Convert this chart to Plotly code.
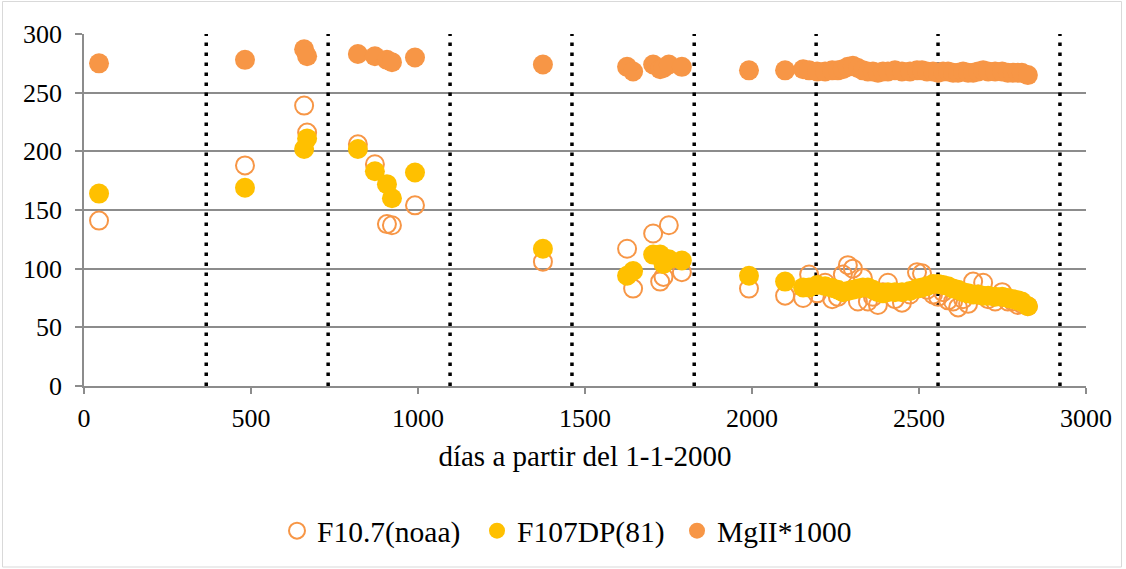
import plotly.graph_objects as go

# ---- data ----
days = [45, 482, 659, 668, 820, 871, 907, 922, 991, 1374,
        1626, 1644, 1704, 1725, 1735, 1751, 1790, 1991, 2099,
        2153, 2171, 2195, 2219, 2240, 2257, 2272, 2287, 2302, 2317,
        2332, 2347, 2362, 2377, 2392, 2407, 2428, 2449, 2473, 2494,
        2509, 2524, 2542, 2557, 2572, 2587, 2602, 2617, 2632, 2647,
        2662, 2677, 2692, 2707, 2728, 2749, 2766, 2781, 2796, 2808, 2826]

f107_noaa = [141, 188, 239, 216, 206, 189, 138, 137, 154, 106,
             117, 83, 130, 89, 93, 137, 97, 83, 77,
             75, 95, 79, 88, 74, 76, 95, 103, 100, 72,
             92, 72, 76, 69, 80, 88, 74, 71, 78, 97,
             96, 82, 78, 76, 80, 73, 72, 67, 74, 70,
             89, 78, 88, 74, 72, 80, 72, 72, 69, 70, 68]

f107dp81 = [164, 169, 202, 211, 202, 183, 172, 160, 182, 117,
            94, 98, 112, 112, 104, 108, 107, 94, 89,
            84, 84, 86, 85, 83.5, 82, 80, 81, 82, 83,
            84, 84, 82, 80, 79, 80, 80, 80, 81, 83,
            84, 85, 87, 87, 86, 85, 83, 82, 80, 79,
            78, 78, 77, 77, 76, 76, 75, 74, 73, 72, 68]

mgii_x1000 = [275, 278, 287, 281, 283, 281, 278, 276, 280, 274,
              272, 268, 274, 270, 271, 274, 272, 269, 269,
              270, 269, 268, 268, 269, 269, 270, 272, 273, 271,
              269, 268, 268, 267, 268, 268, 269, 268, 268, 269,
              269, 268, 268, 267, 268, 268, 267, 267, 268, 267,
              267, 268, 269, 268, 268, 268, 267, 267, 267, 267, 265]

year_boundaries = [366, 731, 1096, 1461, 1827, 2192, 2557, 2922]

x_ticks = [0, 500, 1000, 1500, 2000, 2500, 3000]
y_ticks = [0, 50, 100, 150, 200, 250, 300]

ORANGE = "#F79646"
YELLOW = "#FFC000"
GRID = "#8C8C8C"
FONT = "Liberation Serif, Times New Roman, serif"

W, H = 1126, 569
ML, MR, MT, MB = 84, 40, 34, 183
PW, PH = W - ML - MR, H - MT - MB

fig = go.Figure()

fig.add_trace(go.Scatter(
    x=days, y=f107_noaa, mode="markers", name="F10.7(noaa)",
    marker=dict(symbol="circle-open", size=18, color=ORANGE,
                line=dict(width=2, color=ORANGE)),
))
fig.add_trace(go.Scatter(
    x=days, y=f107dp81, mode="markers", name="F107DP(81)",
    marker=dict(symbol="circle", size=20, color=YELLOW, line=dict(width=0)),
))
fig.add_trace(go.Scatter(
    x=days, y=mgii_x1000, mode="markers", name="MgII*1000",
    marker=dict(symbol="circle", size=20, color=ORANGE, line=dict(width=0)),
))

for xb in year_boundaries:
    fig.add_shape(type="line", xref="x", yref="y", x0=xb, x1=xb, y0=0, y1=300,
                  line=dict(color="black", width=3.5, dash="3.5px,6.5px"),
                  layer="between")


def px_x(p):
    return (p - ML) / PW


def px_y(p):
    return (H - MB - p) / PH


# chart-area border
fig.add_shape(type="rect", xref="paper", yref="paper",
              x0=px_x(2.5), x1=px_x(1121.5), y0=px_y(567), y1=px_y(1.5),
              line=dict(color="#D9D9D9", width=1), fillcolor="rgba(0,0,0,0)",
              layer="below")

fig.update_layout(
    width=W, height=H,
    margin=dict(l=ML, r=MR, t=MT, b=MB),
    paper_bgcolor="white", plot_bgcolor="white",
    font=dict(family=FONT, size=26, color="black"),
    showlegend=True,
    legend=dict(orientation="h", x=px_x(577), xanchor="center", y=px_y(531),
                yanchor="middle", font=dict(family=FONT, size=29.5),
                itemsizing="trace", itemwidth=30, traceorder="normal",
                entrywidth=155, entrywidthmode="pixels"),
)

fig.update_xaxes(
    range=[0, 3000], tickvals=x_ticks, ticktext=[str(v) for v in x_ticks],
    showgrid=False, zeroline=False, automargin=False,
    showline=True, linecolor=GRID, linewidth=1.5,
    ticks="outside", ticklen=6, tickcolor=GRID, tickwidth=1.5,
    ticklabelstandoff=2,
    tickfont=dict(family=FONT, size=26),
    title=dict(text="días a partir del 1-1-2000", standoff=14,
               font=dict(family=FONT, size=29)),
)
fig.update_yaxes(
    range=[0, 300], tickvals=y_ticks, ticktext=[str(v) for v in y_ticks],
    showgrid=True, gridcolor=GRID, gridwidth=1.5, automargin=False,
    zeroline=False, showline=True, linecolor=GRID, linewidth=1.5,
    ticks="outside", ticklen=7, tickcolor=GRID, tickwidth=1.5,
    ticklabelstandoff=8,
    tickfont=dict(family=FONT, size=26),
)

fig.write_html("out.html",
               config={"displayModeBar": False},
               post_script="document.body.style.margin='0';")
